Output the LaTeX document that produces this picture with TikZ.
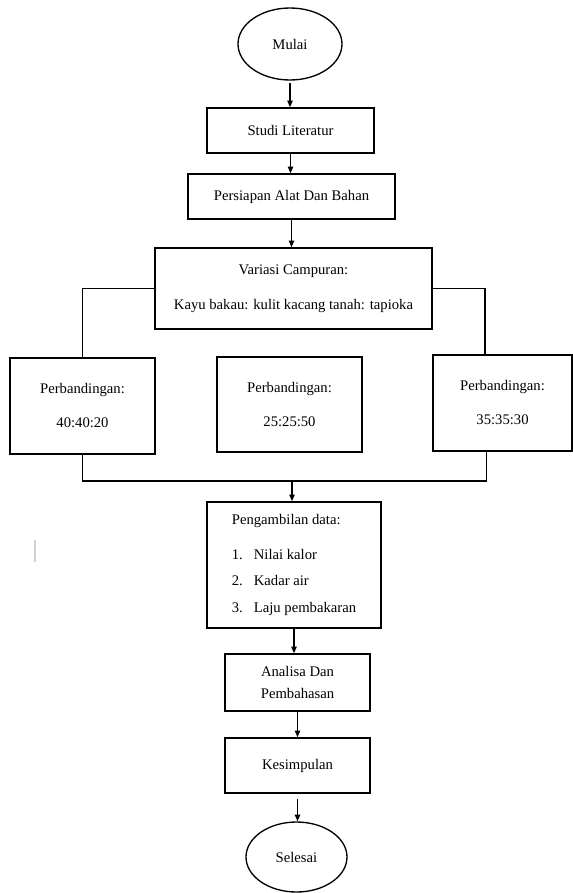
\documentclass[tikz,border=0pt]{standalone}
\usepackage{fontspec}
\setmainfont{Liberation Serif}
\usetikzlibrary{shapes.geometric,arrows.meta}

\begin{document}
\begin{tikzpicture}[x=0.75pt,y=-0.75pt,
  box/.style={rectangle,draw=black,line width=1.1pt,align=center,
    font=\fontsize{11pt}{13pt}\selectfont},
  oval/.style={ellipse,draw=black,line width=1pt,inner sep=0pt,
    font=\fontsize{11pt}{13pt}\selectfont},
  arr/.style={-{Triangle[length=5pt,width=4pt]},line width=1.1pt},
  link/.style={line width=1.1pt}]
\useasboundingbox (0,0) rectangle (572,893);
\node[oval,minimum width=78pt,minimum height=54pt] (mulai) at (290,44) {Mulai};
\node[box,minimum width=125.25pt,minimum height=33.75pt] (studi) at (290.5,130.5) {Studi Literatur};
\node[box,minimum width=155.25pt,minimum height=33.75pt] (alat) at (291.5,196.5) {Persiapan Alat Dan Bahan};
\node[box,minimum width=207.75pt,minimum height=60.75pt] (variasi) at (293.5,288.5)
  {Variasi Campuran:\\[13pt]Kayu bakau: kulit kacang tanah: tapioka};
\node[box,minimum width=108.75pt,minimum height=72pt] (p1) at (82.5,406) {Perbandingan:\\[12.5pt]40:40:20};
\node[box,minimum width=108.75pt,minimum height=71.25pt] (p2) at (289.5,404.5) {Perbandingan:\\[12.5pt]25:25:50};
\node[box,minimum width=104.25pt,minimum height=72pt] (p3) at (502.5,403) {Perbandingan:\\[12.5pt]35:35:30};
\node[box,minimum width=130.5pt,minimum height=94.5pt,align=left,
  font=\fontsize{11pt}{20pt}\selectfont] (data) at (294,565)
  {Pengambilan data:\\[6pt]\makebox[16.5pt][l]{1.}Nilai kalor\\\makebox[16.5pt][l]{2.}Kadar air\\\makebox[16.5pt][l]{3.}Laju pembakaran};
\node[box,minimum width=108.75pt,minimum height=42.75pt] (analisa) at (297.5,682.5) {Analisa Dan\\[4pt]Pembahasan};
\node[box,minimum width=108.75pt,minimum height=41.25pt] (simpul) at (297.5,765.5) {Kesimpulan};
\node[oval,minimum width=75.75pt,minimum height=52.5pt] (selesai) at (296.5,857) {Selesai};

\draw[arr,shorten <=2pt] (mulai) -- (mulai |- studi.north);
\draw[arr] (studi) -- (studi |- alat.north);
\draw[arr] (alat) -- (alat |- variasi.north);
\draw[link] (variasi.west) -| (p1.north);
\draw[link] (variasi.east) -| ([xshift=-13pt]p3.north);
\coordinate (gabung) at (292,481);
\draw[link] (p1.south) |- (gabung) -| ([xshift=-12pt]p3.south);
\draw[arr] (gabung) -- (gabung |- data.north);
\draw[arr] (data) -- (data |- analisa.north);
\draw[arr] (analisa) -- (analisa |- simpul.north);
\draw[arr,shorten <=4pt] (simpul) -- (simpul |- selesai.north);
\draw[gray!35,line width=0.8pt] (35,540) -- (35,562);
\end{tikzpicture}
\end{document}
